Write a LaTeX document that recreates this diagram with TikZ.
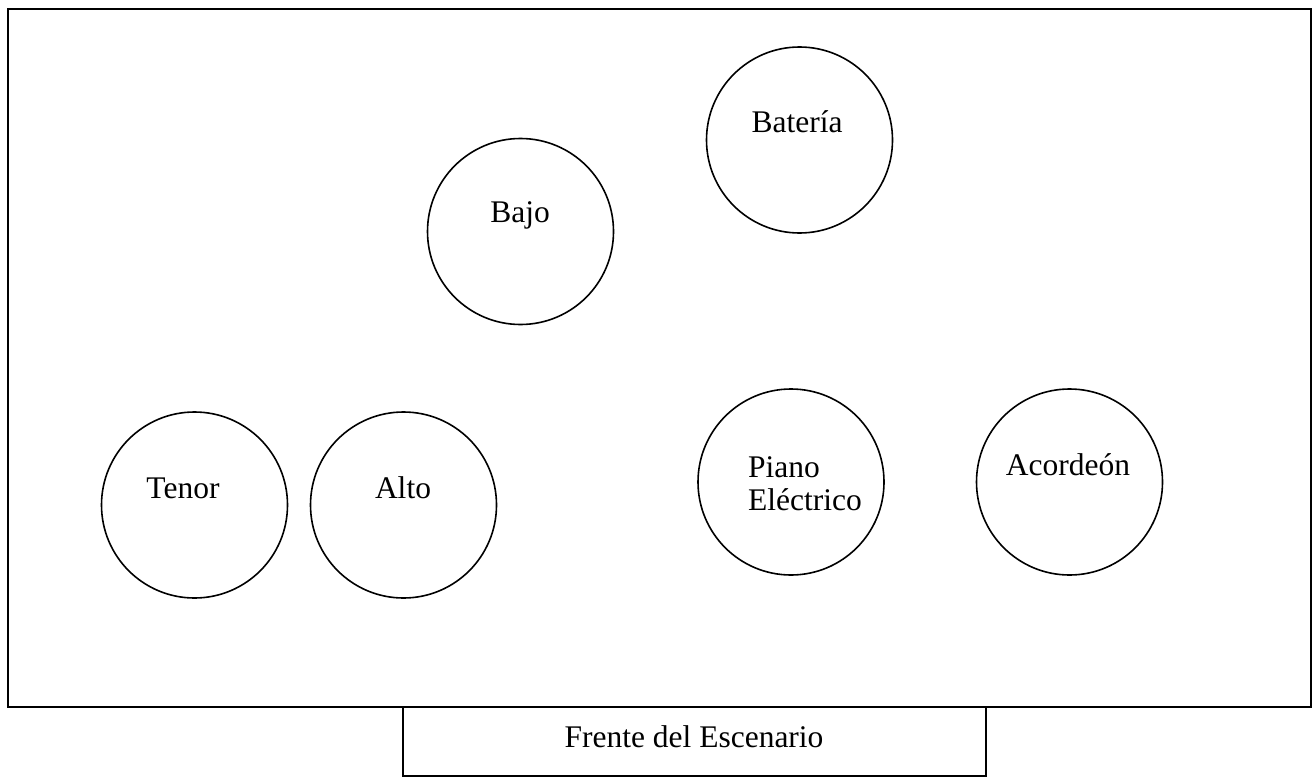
\documentclass[tikz,border=0pt]{standalone}
\usepackage{fontspec}
\setmainfont{Liberation Serif}
\begin{document}
\begin{tikzpicture}[x=1pt,y=-1pt,
  inst/.style={draw=black,line width=1.6pt,circle,minimum size=186pt,inner sep=0pt},
  lbl/.style={font=\fontsize{31.5}{37}\selectfont,inner sep=0pt,anchor=center},
  box/.style={draw=black,line width=2.2pt}]
\useasboundingbox (0,0) rectangle (1316,776);
% stage
\draw[box] (8,9) rectangle (1311,707);
\draw[box] (403,707) rectangle (986,776);
\node[lbl] (frente) at (694,737) {Frente del Escenario};
% instruments
\node[inst] (bateria) at (799.5,140) {};
\node[lbl] (tbateria) at (797,122) {Batería};
\node[inst] (bajo) at (520.5,231.5) {};
\node[lbl] (tbajo) at (520,215) {Bajo};
\node[inst] (tenor) at (194.5,505) {};
\node[lbl] (ttenor) at (183,488) {Tenor};
\node[inst] (alto) at (403.5,505) {};
\node[lbl] (talto) at (403,488) {Alto};
\node[inst] (piano) at (791,482) {};
\node[lbl,align=left,anchor=west] (tpiano) at (748,484) {Piano\\[-4pt]Eléctrico};
\node[inst] (acordeon) at (1069.5,482) {};
\node[lbl] (tacordeon) at (1068,465) {Acordeón};
\end{tikzpicture}
\end{document}
